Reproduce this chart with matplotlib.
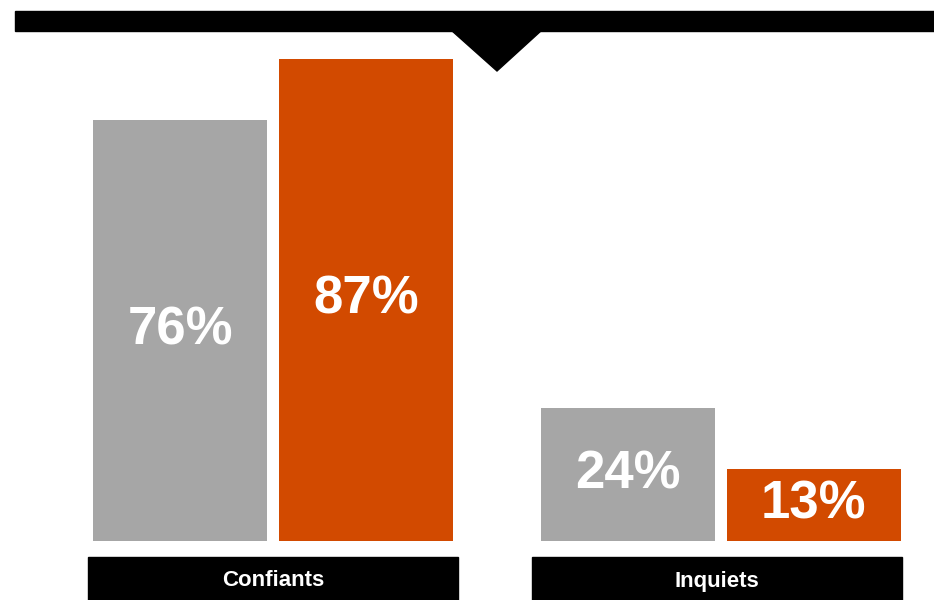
import matplotlib.pyplot as plt
import matplotlib.patches as mpatches
import matplotlib.transforms as mtransforms
import numpy as np

# data
categories = ['Confiants', 'Inquiets']
serie_grise = [76, 24]
serie_orange = [87, 13]

gris = '#A6A6A6'
orange = '#D24A00'

plt.rcParams['font.family'] = ['Liberation Sans', 'DejaVu Sans']

fig = plt.figure(figsize=(9.34, 6), dpi=100)

# bars axes: bottom at the baseline (y=541px), spanning the whole width
ax = fig.add_axes([0, 59 / 600, 1, 541 / 600])
ax.set_xlim(-273 / 447.5, (934 - 273) / 447.5)
ax.set_ylim(0, 87 * 541 / 482)
ax.axis('off')

x = np.arange(len(categories))
w = 174 / 447.5
off = 93 / 447.5
b1 = ax.bar(x - off, serie_grise, w, color=gris)
b2 = ax.bar(x + off, serie_orange, w, color=orange)

for bars, vals in [(b1, serie_grise), (b2, serie_orange)]:
    for r, v in zip(bars, vals):
        ax.text(r.get_x() + r.get_width() / 2, v / 2, f'{v}%', ha='center', va='center',
                color='white', fontsize=38, fontweight='bold')

# category label boxes under the groups
trans = mtransforms.blended_transform_factory(ax.transData, fig.transFigure)
for i, cat in enumerate(categories):
    cx = i - 4 * i / 447.5
    ax.add_patch(mpatches.Rectangle((cx - 185 / 447.5, 0), 370 / 447.5, 43 / 600,
                                    transform=trans, color='black', clip_on=False))
    ax.text(cx, 19 / 600, cat, transform=trans, ha='center', va='center',
            color='white', fontsize=16, fontweight='bold')

# top banner with the pointer
fig.patches.append(mpatches.Rectangle((15 / 934, 1 - 31 / 600), 1, 20 / 600,
                                      transform=fig.transFigure, color='black'))
fig.patches.append(mpatches.Polygon([(451 / 934, 1 - 30 / 600), (542 / 934, 1 - 30 / 600),
                                     (497 / 934, 1 - 71 / 600)],
                                    closed=True, transform=fig.transFigure, color='black'))

fig.savefig('out.png', dpi=100)
